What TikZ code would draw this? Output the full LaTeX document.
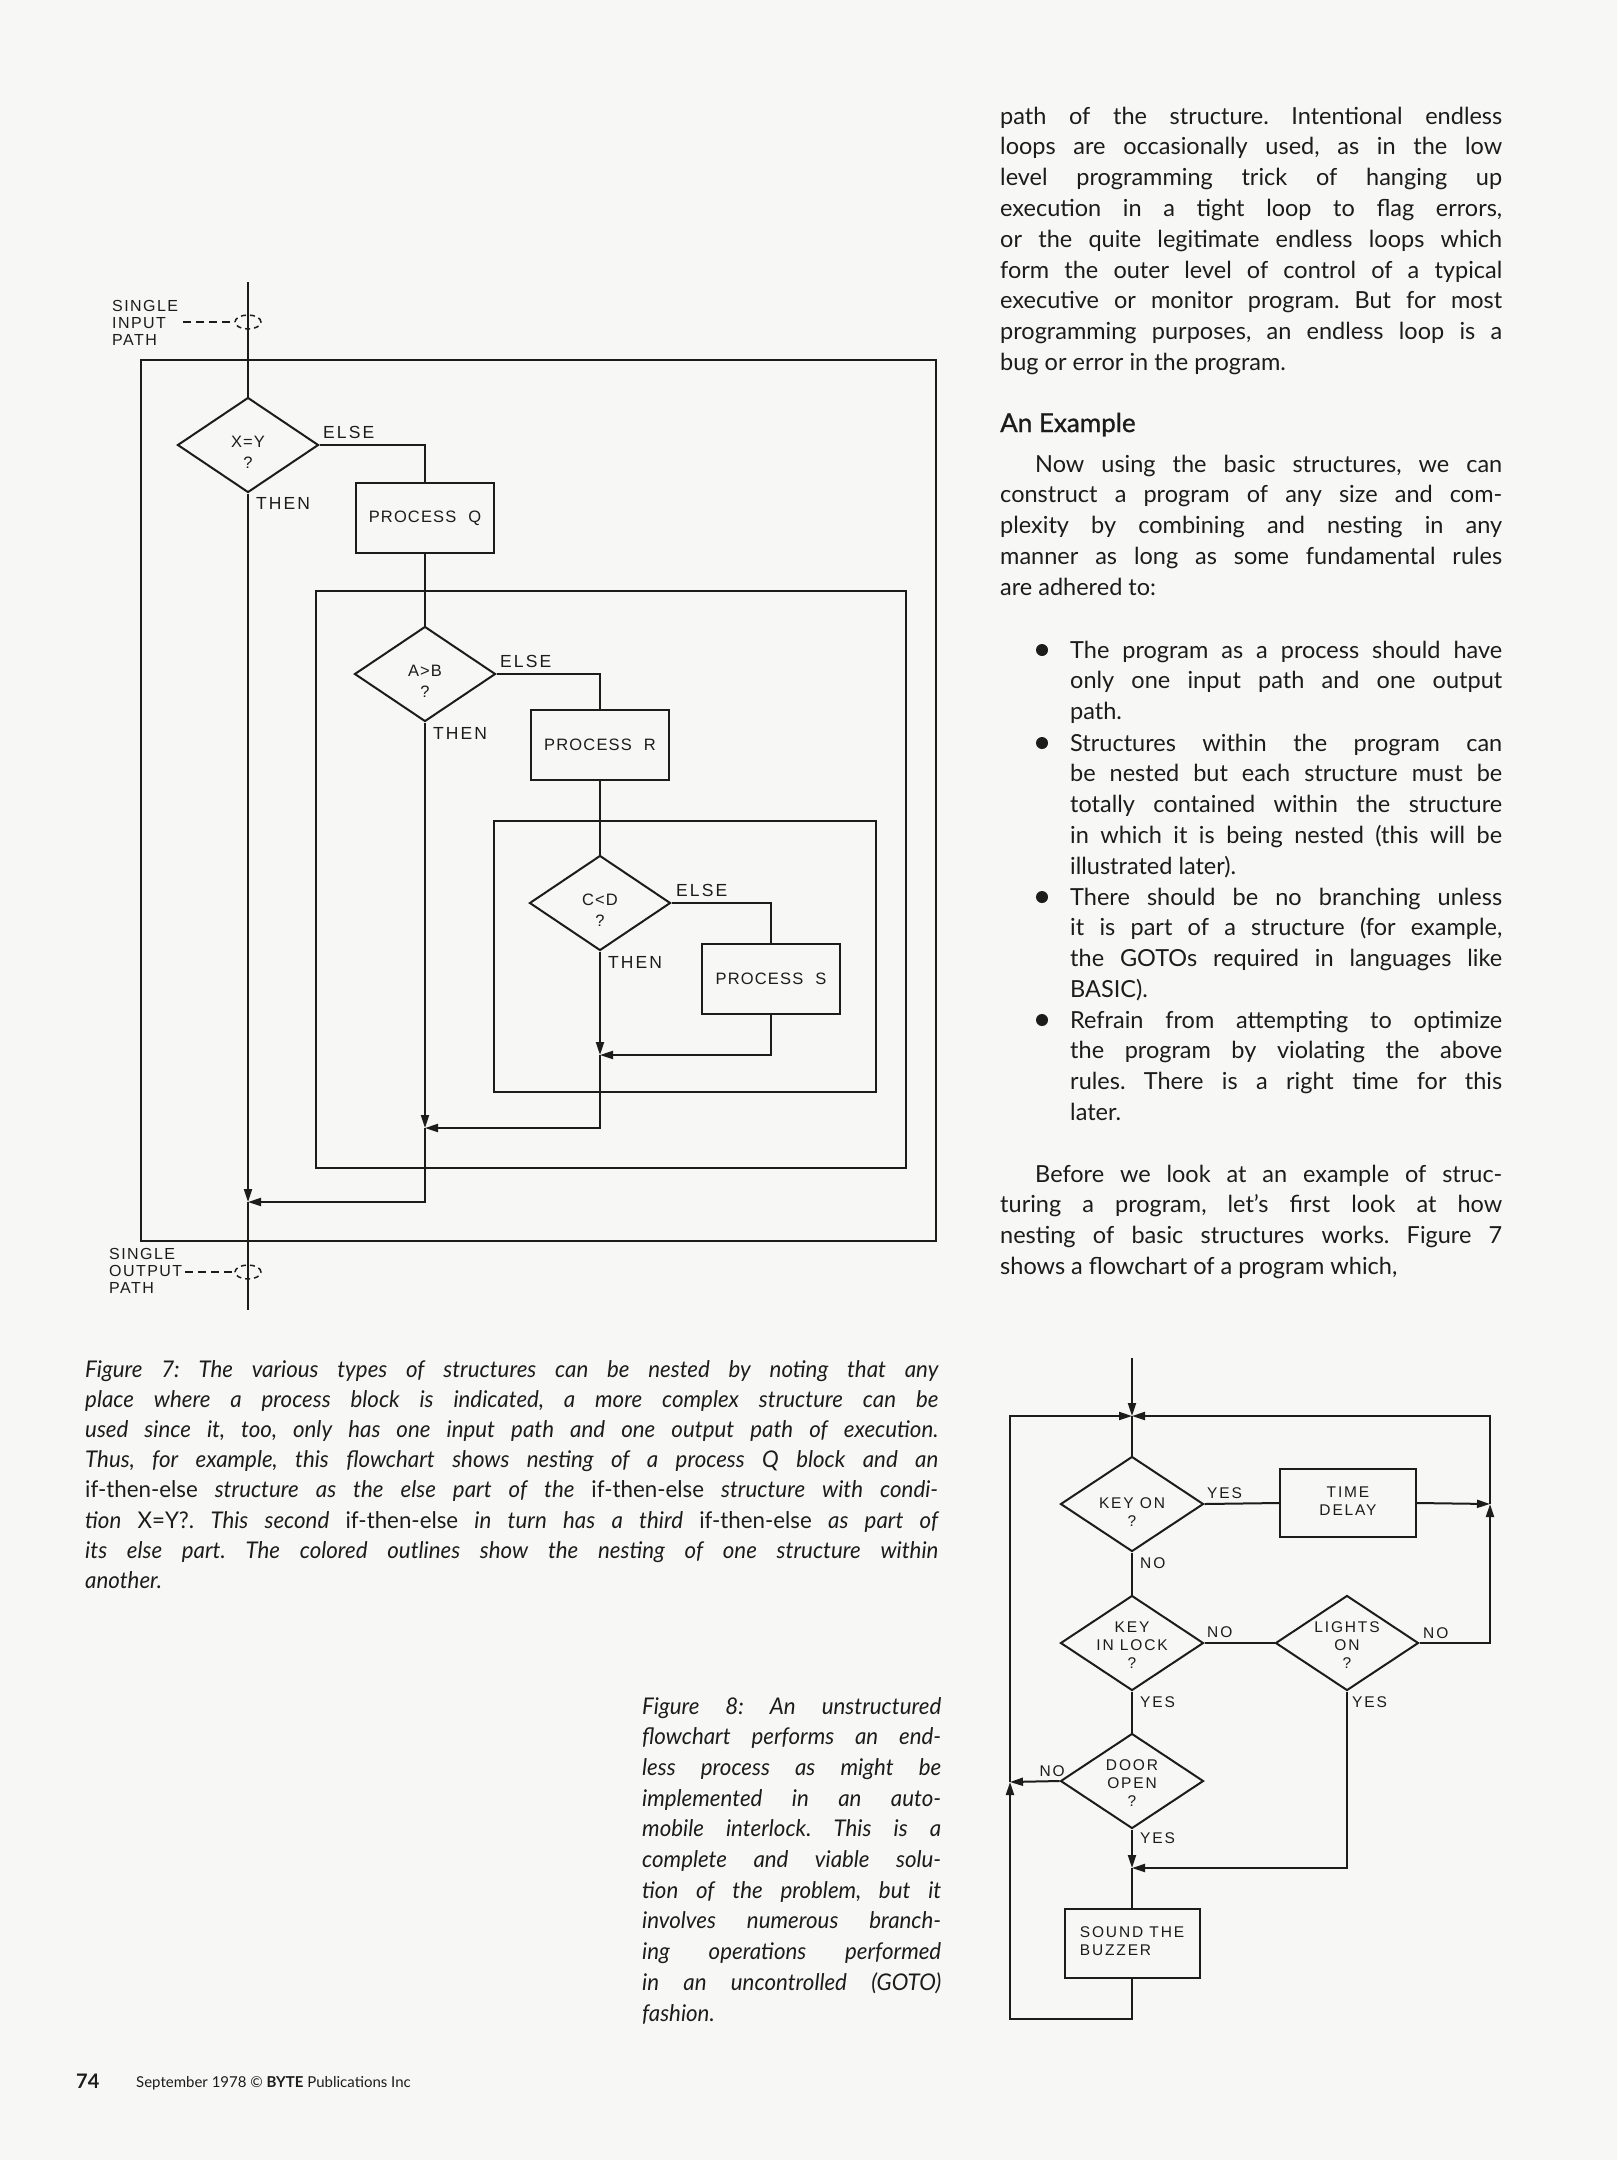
\documentclass[tikz,border=0pt]{standalone}
\usepackage{fontspec}
\setmainfont{Lato}
\newfontfamily\lblfont[LetterSpace=12]{Liberation Sans}
\newfontfamily\boxfont[LetterSpace=7]{Liberation Sans}
\newfontfamily\lblsfont[LetterSpace=9]{Liberation Sans}
\newfontfamily\capfont[FakeStretch=0.97]{Lato}
\newfontfamily\headfont[FakeBold=1]{Lato}
\usetikzlibrary{shapes.geometric,arrows.meta}
\definecolor{ink}{RGB}{28,28,28}
\definecolor{paper}{RGB}{247,247,245}
\newcommand{\dtxt}[2][-13pt]{\smash{\raisebox{#1}{\begin{tabular}{@{}c@{}}#2\end{tabular}}}}
\begin{document}
\frenchspacing
\begin{tikzpicture}[x=1pt,y=-1pt,
  every node/.style={inner sep=0pt,text=ink},
  ln/.style={draw=ink,line width=2pt},
  arr/.style={ln,-{Triangle[length=13pt,width=8pt]}},
  dsh/.style={draw=ink,line width=1.5pt,dash pattern=on 8pt off 5pt},
  f7/.style={font=\lblfont\fontsize{17.5}{21}\selectfont},
  f7b/.style={font=\boxfont\fontsize{16.5}{21}\selectfont},
  f7s/.style={font=\lblsfont\fontsize{16}{17}\selectfont},
  f8/.style={font=\lblfont\fontsize{15.5}{18}\selectfont},
  dia7/.style={diamond,ln,minimum width=141pt,minimum height=95pt,f7b},
  box7/.style={rectangle,ln,minimum width=138pt,minimum height=70pt,f7b},
  dia8/.style={diamond,ln,minimum width=143pt,minimum height=95pt,f8},
  box8/.style={rectangle,ln,minimum width=136pt,minimum height=68pt,f8},
  body/.style={text width=502pt,align=justify,font=\fontsize{23.5}{30.8}\selectfont},
  bul/.style={text width=432pt,align=justify,font=\fontsize{23.5}{30.8}\selectfont},
  capt/.style={align=justify,font=\capfont\itshape\fontsize{23}{30.2}\selectfont},
]
\fill[paper] (0,0) rectangle (1617,2160);
\useasboundingbox (0,0) rectangle (1617,2160);

% ---------------- Figure 7 ----------------
\draw[ln] (141,360) rectangle (936,1241);
\draw[ln] (316,591) rectangle (906,1168);
\draw[ln] (494,821) rectangle (876,1092);

\node[dia7] (d1) at (248,445) {\dtxt{X=Y\\?}};
\node[box7] (q) at (425,518) {PROCESS\hspace{12pt}Q};
\node[dia7] (d2) at (425,674) {\dtxt{A>B\\?}};
\node[box7] (r) at (600,745) {PROCESS\hspace{12pt}R};
\node[dia7] (d3) at (600,903) {\dtxt{C<D\\?}};
\node[box7] (s) at (771,979) {PROCESS\hspace{12pt}S};

\coordinate (in0) at (248,282);
\coordinate (m3) at (600,1055);
\coordinate (m2) at (425,1128);
\coordinate (m1) at (248,1202);
\coordinate (out0) at (248,1310);

\draw[ln] (in0) -- (d1.north);
\draw[ln] (d1.east) -| (q.north);
\draw[ln] (q.south) -- (d2.north);
\draw[ln] (d2.east) -| (r.north);
\draw[ln] (r.south) -- (d3.north);
\draw[ln] (d3.east) -| (s.north);
\draw[arr] (d3.south) -- (m3);
\draw[arr] (s.south) |- (m3);
\draw[arr] (d2.south) -- (m2);
\draw[arr] (m3) |- (m2);
\draw[arr] (d1.south) -- (m1);
\draw[arr] (m2) |- (m1);
\draw[ln] (m1) -- (out0);

\node[f7,anchor=south west] (e1) at (323,439) {ELSE};
\node[f7,anchor=north west] (t1) at (256,497) {THEN};
\node[f7,anchor=south west] (e2) at (500,668) {ELSE};
\node[f7,anchor=north west] (t2) at (433,727) {THEN};
\node[f7,anchor=south west] (e3) at (676,897) {ELSE};
\node[f7,anchor=north west] (t3) at (608,956) {THEN};

\node[f7s,anchor=base west] (inl) at (112,311) {\begin{tabular}[t]{@{}l@{}}SINGLE\\INPUT\\PATH\end{tabular}};
\node[ellipse,draw=ink,line width=1.5pt,dash pattern=on 5pt off 4pt,minimum width=26pt,minimum height=14pt] (inell) at (248,322) {};
\coordinate (ind) at (183,322);
\draw[dsh] (ind) -- (inell.west);

\node[f7s,anchor=base west] (outl) at (109,1259) {\begin{tabular}[t]{@{}l@{}}SINGLE\\OUTPUT\\PATH\end{tabular}};
\node[ellipse,draw=ink,line width=1.5pt,dash pattern=on 5pt off 4pt,minimum width=26pt,minimum height=14pt] (outell) at (248,1272) {};
\coordinate (outd) at (185,1272);
\draw[dsh] (outd) -- (outell.west);

% ---------------- Figure 8 ----------------
\node[dia8] (k1) at (1132,1504) {\dtxt{KEY ON\\?}};
\node[box8] (td) at (1348,1503) {\begin{tabular}{@{}c@{}}TIME\\DELAY\end{tabular}};
\node[dia8] (k2) at (1132,1643) {\dtxt[-7pt]{KEY\\IN LOCK\\?}};
\node[dia8] (k3) at (1347,1643) {\dtxt[-7pt]{LIGHTS\\ON\\?}};
\node[dia8] (k4) at (1132,1781) {\dtxt[-7pt]{DOOR\\OPEN\\?}};
\node[box8,minimum width=135pt,minimum height=69pt] (bz) at (1132,1943) {\begin{tabular}{@{}l@{}}SOUND THE\\BUZZER\end{tabular}};

\coordinate (top8) at (1132,1358);
\coordinate (T) at (1132,1416);
\coordinate (J) at (1490,1504);
\coordinate (L) at (1010,1782);
\coordinate (M) at (1132,1868);

\draw[arr] (top8) -- (T);
\draw[ln] (T) -- (k1.north);
\draw[ln] (k1.east) -- (td.west);
\draw[arr] (td.east) -- (J);
\draw[arr] (k3.east) -| (J);
\draw[arr] (J) |- (T);
\draw[ln] (k1.south) -- (k2.north);
\draw[ln] (k2.east) -- (k3.west);
\draw[ln] (k2.south) -- (k4.north);
\draw[arr] (k4.west) -- (L);
\draw[arr] (k4.south) -- (M);
\draw[arr] (k3.south) |- (M);
\draw[ln] (M) -- (bz.north);
\draw[arr] (bz.south) -- ++(0,40) -| (L);
\draw[arr] (L) |- (T);

\node[f8,anchor=south west] (y1) at (1207,1499) {YES};
\node[f8,anchor=north west] (n1) at (1140,1557) {NO};
\node[f8,anchor=south west] (n2) at (1207,1638) {NO};
\node[f8,anchor=south west] (n3) at (1423,1639) {NO};
\node[f8,anchor=north west] (y2) at (1140,1696) {YES};
\node[f8,anchor=north west] (y3) at (1352,1696) {YES};
\node[f8,anchor=south east] (n4) at (1065,1777) {NO};
\node[f8,anchor=north west] (y4) at (1140,1832) {YES};

% ---------------- Text column ----------------
\node[body,anchor=base west] (p1) at (1000,124) {path of the structure. Intentional endless\linebreak
loops are occasionally used, as in the low\linebreak
level programming trick of hanging up\linebreak
execution in a tight loop to flag errors,\linebreak
or the quite legitimate endless loops which\linebreak
form the outer level of control of a typical\linebreak
executive or monitor program. But for most\linebreak
programming purposes, an endless loop is a\linebreak
bug or error in the program.};

\node[anchor=base west,font=\headfont\fontsize{26}{30}\selectfont] (hd) at (1000,432) {An Example};

\node[body,anchor=base west] (p2) at (1000,472) {\hspace*{35pt}Now using the basic structures, we can\linebreak
construct a program of any size and com-\linebreak
plexity by combining and nesting in any\linebreak
manner as long as some fundamental rules\linebreak
are adhered to:};

\fill[ink] (1042,650) circle (6pt);
\node[bul,anchor=base west] (b1) at (1070,658) {The program as a process should have\linebreak
only one input path and one output\linebreak
path.};
\fill[ink] (1042,743) circle (6pt);
\node[bul,anchor=base west] (b2) at (1070,751) {Structures within the program can\linebreak
be nested but each structure must be\linebreak
totally contained within the structure\linebreak
in which it is being nested (this will be\linebreak
illustrated later).};
\fill[ink] (1042,897) circle (6pt);
\node[bul,anchor=base west] (b3) at (1070,905) {There should be no branching unless\linebreak
it is part of a structure (for example,\linebreak
the GOTOs required in languages like\linebreak
BASIC).};
\fill[ink] (1042,1020) circle (6pt);
\node[bul,anchor=base west] (b4) at (1070,1028) {Refrain from attempting to optimize\linebreak
the program by violating the above\linebreak
rules. There is a right time for this\linebreak
later.};

\node[body,anchor=base west] (p3) at (1000,1182) {\hspace*{35pt}Before we look at an example of struc-\linebreak
turing a program, let’s first look at how\linebreak
nesting of basic structures works. Figure 7\linebreak
shows a flowchart of a program which,};

% ---------------- Captions ----------------
\node[capt,text width=853pt,anchor=base west] (c7) at (85,1377) {Figure 7: The various types of structures can be nested by noting that any\linebreak
place where a process block is indicated, a more complex structure can be\linebreak
used since it, too, only has one input path and one output path of execution.\linebreak
Thus, for example, this flowchart shows nesting of a process Q block and an\linebreak
{\upshape if-then-else} structure as the else part of the {\upshape if-then-else} structure with condi-\linebreak
tion {\upshape X=Y?.} This second {\upshape if-then-else} in turn has a third {\upshape if-then-else} as part of\linebreak
its else part. The colored outlines show the nesting of one structure within\linebreak
another.};

\node[capt,text width=299pt,anchor=base west,font=\capfont\itshape\fontsize{23}{30.7}\selectfont] (c8) at (642,1714) {Figure 8: An unstructured\linebreak
flowchart performs an end-\linebreak
less process as might be\linebreak
implemented in an auto-\linebreak
mobile interlock. This is a\linebreak
complete and viable solu-\linebreak
tion of the problem, but it\linebreak
involves numerous branch-\linebreak
ing operations performed\linebreak
in an uncontrolled (GOTO)\linebreak
fashion.};

% ---------------- Footer ----------------
\node[anchor=base west,font=\bfseries\fontsize{20}{24}\selectfont] (pg) at (76,2088) {74};
\node[anchor=base west,font=\fontsize{15}{18}\selectfont] (ft) at (136,2087) {September 1978 © \textbf{BYTE} Publications Inc};
\end{tikzpicture}
\end{document}
